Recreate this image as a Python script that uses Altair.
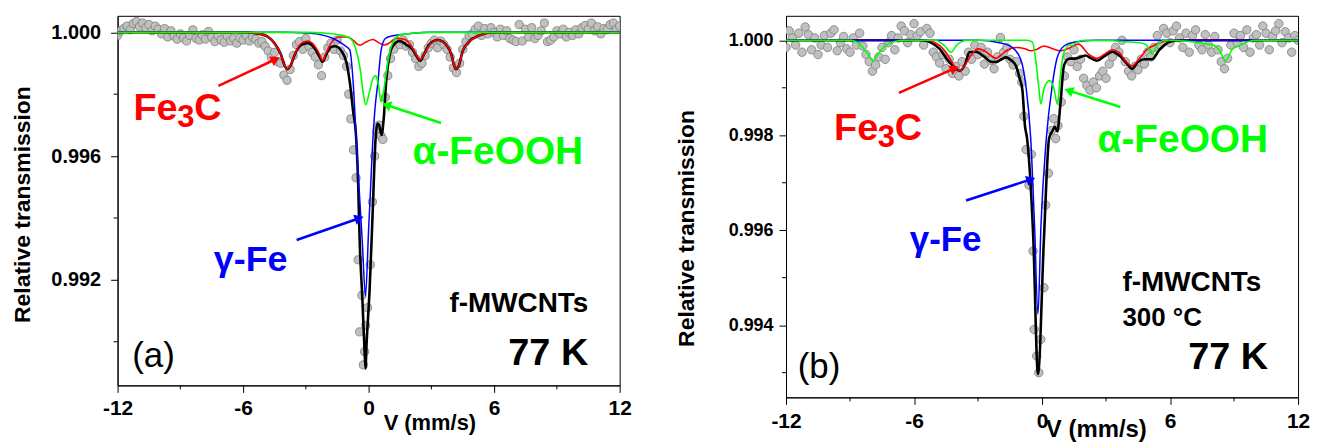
import altair as alt
import pandas as pd

# ---------------- data ----------------
# (a) f-MWCNTs, 77 K : experimental points
left_pts_v = [-12.00, -11.85, -11.70, -11.55, -11.40, -11.25, -11.10, -10.95, -10.80, -10.65,
              -10.50, -10.35, -10.20, -10.05, -9.90, -9.75, -9.60, -9.45, -9.30, -9.15,
              -9.00, -8.85, -8.70, -8.55, -8.40, -8.25, -8.10, -7.95, -7.80, -7.65,
              -7.50, -7.35, -7.20, -7.05, -6.90, -6.75, -6.60, -6.45, -6.30, -6.15,
              -6.00, -5.85, -5.70, -5.55, -5.40, -5.25, -5.10, -4.95, -4.80, -4.65,
              -4.50, -4.35, -4.20, -4.05, -3.90, -3.75, -3.60, -3.45, -3.30, -3.15,
              -3.00, -2.85, -2.70, -2.55, -2.40, -2.25, -2.10, -1.95, -1.80, -1.65,
              -1.50, -1.35, -1.20, -1.05, -0.95, -0.85, -0.72, -0.60, -0.50, -0.43,
              -0.32, -0.25, -0.19, -0.14, -0.05, 0.08, 0.18, 0.29, 0.40, 0.50,
              0.60, 0.68, 0.80, 0.92, 1.05, 1.20, 1.35, 1.50, 1.65, 1.80,
              1.95, 2.10, 2.25, 2.40, 2.55, 2.70, 2.85, 3.00, 3.15, 3.30,
              3.45, 3.60, 3.75, 3.90, 4.05, 4.20, 4.35, 4.50, 4.65, 4.80,
              4.95, 5.10, 5.25, 5.40, 5.55, 5.70, 5.85, 6.00, 6.15, 6.30,
              6.45, 6.60, 6.75, 6.90, 7.05, 7.20, 7.35, 7.50, 7.65, 7.80,
              7.95, 8.10, 8.25, 8.40, 8.55, 8.70, 8.85, 9.00, 9.15, 9.30,
              9.45, 9.60, 9.75, 9.90, 10.05, 10.20, 10.35, 10.50, 10.65, 10.80,
              10.95, 11.10, 11.25, 11.40, 11.55, 11.70, 11.85, 12.00]
left_pts_t = [0.99990, 1.00005, 1.00012, 1.00020, 1.00008, 1.00028, 1.00035, 1.00018, 1.00030, 1.00015,
              1.00025, 1.00005, 1.00020, 1.00010, 0.99995, 1.00012, 0.99985, 1.00005, 0.99988, 0.99978,
              0.99995, 0.99982, 0.99972, 0.99990, 1.00008, 0.99980, 0.99975, 0.99992, 0.99978, 1.00003,
              0.99985, 0.99970, 0.99990, 0.99975, 0.99968, 0.99988, 0.99972, 0.99980, 0.99965, 0.99982,
              0.99975, 0.99990, 0.99972, 0.99985, 0.99978, 0.99965, 0.99970, 0.99955, 0.99940, 0.99920,
              0.99935, 0.99905, 0.99900, 0.99862, 0.99845, 0.99880, 0.99925, 0.99960, 0.99970, 0.99945,
              0.99980, 0.99955, 0.99935, 0.99920, 0.99895, 0.99860, 0.99920, 0.99950, 0.99965, 0.99945,
              0.99975, 0.99940, 0.99925, 0.99890, 0.99800, 0.99720, 0.99620, 0.99530, 0.99265, 0.99032,
              0.99150, 0.98925, 0.98968, 0.99053, 0.99110, 0.99249, 0.99452, 0.99600, 0.99680, 0.99700,
              0.99665, 0.99654, 0.99790, 0.99860, 0.99915, 0.99945, 0.99970, 0.99960, 0.99975, 0.99955,
              0.99960, 0.99935, 0.99915, 0.99890, 0.99900, 0.99925, 0.99950, 0.99965, 0.99975, 0.99950,
              0.99972, 0.99960, 0.99945, 0.99920, 0.99885, 0.99870, 0.99900, 0.99945, 0.99970, 0.99990,
              0.99995, 1.00010, 1.00020, 0.99990, 1.00012, 0.99995, 1.00015, 1.00000, 0.99985, 1.00010,
              0.99990, 1.00005, 0.99980, 0.99975, 0.99970, 1.00025, 0.99972, 1.00010, 0.99985, 1.00015,
              0.99980, 0.99990, 1.00005, 1.00030, 0.99970, 0.99975, 0.99985, 1.00005, 0.99995, 1.00010,
              0.99985, 1.00000, 0.99990, 1.00008, 0.99995, 1.00015, 1.00022, 1.00010, 1.00030, 1.00005,
              1.00018, 0.99995, 1.00012, 1.00008, 1.00025, 1.00030, 1.00010, 1.00020]

# (a) fitted curves
left_total_v = [-12, -6, -5.2, -4.8, -4.5, -4.2, -4.0, -3.89, -3.75, -3.5, -3.2, -2.9, -2.6, -2.35,
                -2.2, -2.05, -1.8, -1.6, -1.3, -1.05, -0.9, -0.75, -0.59, -0.5, -0.43, -0.3, -0.2,
                -0.15, -0.1, 0.05, 0.2, 0.33, 0.42, 0.5, 0.62, 0.72, 0.85, 1.0, 1.2, 1.5, 1.8, 2.1,
                2.3, 2.46, 2.62, 2.9, 3.3, 3.7, 3.95, 4.1, 4.17, 4.3, 4.5, 4.8, 5.3, 6, 12]
left_total_t = [1.0, 1.0, 0.99995, 0.99985, 0.99965, 0.9993, 0.9989, 0.99881, 0.9989, 0.99933, 0.9996,
                0.99965, 0.9995, 0.99922, 0.99905, 0.99925, 0.99952, 0.99955, 0.9994, 0.9990, 0.9984,
                0.9975, 0.99653, 0.9951, 0.99332, 0.9914, 0.9898, 0.98914, 0.9899, 0.99172, 0.9943,
                0.99653, 0.99705, 0.9970, 0.99668, 0.9972, 0.9985, 0.99925, 0.9996, 0.99972, 0.9996,
                0.99945, 0.99922, 0.99908, 0.99925, 0.9996, 0.99975, 0.9996, 0.9993, 0.9989, 0.99881,
                0.9989, 0.9994, 0.9997, 0.9999, 1.0, 1.0]
left_fe3c_v = [-12, -6, -5.2, -4.8, -4.5, -4.2, -4.0, -3.89, -3.75, -3.5, -3.2, -2.9, -2.6, -2.35,
               -2.2, -2.05, -1.8, -1.4, -1.0, -0.7, -0.5, -0.38, -0.2, 0.2, 0.5, 0.76, 1.0, 1.3,
               1.7, 2.05, 2.3, 2.46, 2.62, 2.9, 3.3, 3.7, 3.95, 4.1, 4.17, 4.3, 4.5, 4.8, 5.3, 6, 12]
left_fe3c_t = [1.0, 1.0, 0.99995, 0.99985, 0.99965, 0.9993, 0.9989, 0.99881, 0.9989, 0.99935, 0.99965,
               0.99972, 0.99958, 0.9993, 0.99908, 0.9993, 0.99965, 0.99985, 0.99985, 0.99972, 0.9996,
               0.99959, 0.99966, 0.99977, 0.99966, 0.99959, 0.99966, 0.9998, 0.99978, 0.99955, 0.99925,
               0.99911, 0.99925, 0.99958, 0.99975, 0.9996, 0.9993, 0.9989, 0.99881, 0.9989, 0.9994,
               0.9997, 0.9999, 1.0, 1.0]
left_gfe_v = [-12, -4, -3, -2.5, -1.7, -1.2, -0.9, -0.75, -0.59, -0.45, -0.3, -0.15, 0.0, 0.1,
              0.2, 0.3, 0.44, 0.6, 0.8, 1.1, 2, 3, 12]
left_gfe_t = [1.0, 1.0, 0.99998, 0.99995, 0.9998, 0.9996, 0.99943, 0.9985, 0.99654, 0.9949, 0.9932,
              0.99148, 0.99363, 0.99505, 0.9965, 0.9975, 0.99836, 0.99943, 0.9998, 0.99988, 0.99996,
              1.0, 1.0]
left_feooh_v = [-12, -3, -2, -1.5, -1.0, -0.75, -0.6, -0.4, -0.27, -0.14, 0.05, 0.2, 0.33, 0.47,
                0.6, 0.72, 0.84, 1.08, 1.48, 2.0, 3, 12]
left_feooh_t = [1.0, 1.0, 0.99997, 0.99993, 0.99985, 0.9997, 0.99943, 0.9988, 0.9981, 0.99766, 0.9981,
                0.9985, 0.9986, 0.9983, 0.99775, 0.9981, 0.99869, 0.99954, 0.99991, 0.99996, 1.0, 1.0]

# (b) f-MWCNTs 300 °C, 77 K : experimental points
right_pts_v = [-12.00, -11.85, -11.70, -11.55, -11.40, -11.25, -11.10, -10.95, -10.80, -10.65,
               -10.50, -10.35, -10.20, -10.05, -9.90, -9.75, -9.60, -9.45, -9.30, -9.15,
               -9.00, -8.85, -8.70, -8.55, -8.40, -8.25, -8.10, -7.95, -7.80, -7.65,
               -7.50, -7.35, -7.20, -7.05, -6.90, -6.75, -6.60, -6.45, -6.30, -6.15,
               -6.00, -5.85, -5.70, -5.55, -5.40, -5.25, -5.10, -4.95, -4.80, -4.65,
               -4.50, -4.35, -4.20, -4.05, -3.90, -3.75, -3.60, -3.45, -3.30, -3.15,
               -3.00, -2.85, -2.70, -2.55, -2.40, -2.25, -2.10, -1.95, -1.80, -1.65,
               -1.50, -1.35, -1.20, -1.05, -0.95, -0.85, -0.75, -0.61, -0.50, -0.42,
               -0.37, -0.25, -0.15, -0.06, 0.09, 0.17, 0.30, 0.45, 0.55, 0.64,
               0.75, 0.90, 1.05, 1.20, 1.35, 1.50, 1.65, 1.80, 1.95, 2.10,
               2.25, 2.40, 2.55, 2.70, 2.85, 3.00, 3.15, 3.30, 3.45, 3.60,
               3.75, 3.90, 4.05, 4.20, 4.35, 4.50, 4.65, 4.80, 4.95, 5.10,
               5.25, 5.40, 5.55, 5.70, 5.85, 6.00, 6.15, 6.30, 6.45, 6.60,
               6.75, 6.90, 7.05, 7.20, 7.35, 7.50, 7.65, 7.80, 7.95, 8.10,
               8.25, 8.40, 8.55, 8.70, 8.85, 9.00, 9.15, 9.30, 9.45, 9.60,
               9.75, 9.90, 10.05, 10.20, 10.35, 10.50, 10.65, 10.80, 10.95, 11.10,
               11.25, 11.40, 11.55, 11.70, 11.85, 12.00]
right_pts_t = [0.99985, 1.00020, 1.00005, 0.99990, 1.00015, 0.99975, 1.00028, 1.00012, 0.99980, 1.00005,
               0.99970, 0.99990, 1.00010, 0.99985, 1.00015, 1.00022, 0.99978, 0.99995, 1.00008, 0.99982,
               0.99975, 1.00005, 0.99990, 1.00015, 0.99988, 0.99970, 0.99955, 0.99935, 0.99948, 0.99965,
               0.99985, 0.99960, 0.99995, 1.00010, 0.99980, 1.00005, 1.00030, 1.00020, 0.99995, 1.00012,
               1.00035, 1.00010, 1.00018, 0.99990, 1.00025, 1.00015, 0.99975, 0.99965, 0.99952, 0.99970,
               0.99940, 0.99960, 0.99930, 0.99945, 0.99925, 0.99955, 0.99935, 0.99975, 0.99960, 0.99990,
               0.99970, 0.99985, 0.99950, 0.99975, 0.99958, 0.99940, 0.99965, 1.00006, 0.99975, 0.99985,
               0.99960, 0.99948, 0.99955, 0.99930, 0.99912, 0.99840, 0.99770, 0.99695, 0.99760, 0.99556,
               0.99391, 0.99335, 0.99300, 0.99370, 0.99479, 0.99653, 0.99720, 0.99810, 0.99835, 0.99793,
               0.99820, 0.99870, 0.99925, 0.99965, 0.99955, 0.99980, 0.99945, 0.99960, 0.99920, 0.99905,
               0.99895, 0.99912, 0.99900, 0.99925, 0.99935, 0.99920, 0.99950, 0.99965, 0.99985, 0.99975,
               1.00000, 0.99955, 0.99935, 0.99925, 0.99945, 0.99938, 0.99960, 0.99950, 0.99975, 0.99965,
               0.99985, 1.00010, 0.99990, 1.00025, 1.00015, 0.99995, 1.00020, 1.00030, 1.00005, 0.99985,
               1.00015, 0.99975, 1.00010, 1.00022, 0.99990, 0.99980, 1.00012, 0.99990, 0.99975, 1.00008,
               0.99980, 0.99955, 0.99940, 0.99962, 0.99990, 1.00015, 0.99995, 1.00010, 0.99985, 1.00022,
               0.99975, 1.00005, 1.00012, 0.99990, 1.00030, 1.00015, 0.99980, 1.00008, 1.00020, 1.00035,
               0.99995, 1.00018, 1.00005, 0.99975, 1.00010, 1.00000]

# (b) fitted curves
right_total_v = [-12, -5.6, -5.2, -4.8, -4.45, -4.19, -3.87, -3.6, -3.41, -3.1, -2.7, -2.4, -2.16,
                 -1.9, -1.69, -1.45, -1.23, -1.05, -0.92, -0.8, -0.7, -0.41, -0.19, 0.09, 0.33, 0.5,
                 0.6, 0.72, 0.85, 1.03, 1.26, 1.6, 2.04, 2.3, 2.58, 2.9, 3.3, 3.7, 4.0, 4.22, 4.5,
                 4.8, 5.15, 5.5, 6.0, 6.5, 12]
right_total_t = [1.0, 1.0, 0.99995, 0.99982, 0.9996, 0.99947, 0.99936, 0.9995, 0.99975, 0.99976, 0.99965,
                 0.99955, 0.99954, 0.9996, 0.99964, 0.99958, 0.99947, 0.9992, 0.99895, 0.9982, 0.99793,
                 0.99583, 0.99297, 0.99583, 0.99793, 0.9981, 0.99818, 0.99808, 0.9986, 0.99947, 0.99961,
                 0.99962, 0.99968, 0.99962, 0.99957, 0.99966, 0.99976, 0.99965, 0.9995, 0.9994, 0.99955,
                 0.9996, 0.9996, 0.9998, 0.99997, 1.0, 1.0]
right_fe3c_v = [-12, -5.5, -5.0, -4.6, -4.3, -4.05, -3.87, -3.65, -3.3, -3.0, -2.7, -2.4, -2.16, -1.95,
                -1.6, -1.2, -0.8, -0.53, -0.3, 0.1, 0.5, 0.87, 1.2, 1.7, 2.2, 2.58, 2.9, 3.3, 3.6,
                3.95, 4.22, 4.5, 4.9, 5.4, 6, 12]
right_fe3c_t = [1.0, 1.0, 0.99995, 0.9998, 0.9996, 0.99942, 0.99936, 0.99945, 0.9997, 0.99982, 0.99978,
                0.99968, 0.99962, 0.99968, 0.9998, 0.99985, 0.99982, 0.99978, 0.9998, 0.99988, 0.99982,
                0.99978, 0.99982, 0.99992, 0.9997, 0.99962, 0.9997, 0.9998, 0.99975, 0.99955, 0.99946,
                0.99958, 0.9998, 0.99992, 1.0, 1.0]
right_gfe_v = [-12, -3, -2, -1.4, -1.0, -0.76, -0.53, -0.35, -0.19, -0.05, 0.2, 0.48, 0.69, 1.03,
               1.5, 2.5, 12]
right_gfe_t = [1.0, 1.0, 0.99995, 0.99985, 0.9996, 0.99905, 0.99793, 0.9961, 0.99423, 0.9961, 0.99793,
               0.99905, 0.9996, 0.99988, 0.99996, 1.0, 1.0]
right_feooh_v = [-12, -9, -8.5, -8.15, -7.92, -7.7, -7.3, -6.5, -5, -4.6, -4.26, -4.0, -3.5, -0.7,
                 -0.45, -0.3, -0.15, -0.06, 0.1, 0.36, 0.55, 0.72, 0.85, 1.0, 1.3, 1.42, 1.6, 2.0,
                 4.6, 4.9, 5.15, 5.4, 5.8, 8.0, 8.3, 8.6, 8.9, 9.3, 10, 12]
right_feooh_t = [1.0, 1.0, 0.9999, 0.9997, 0.99957, 0.9997, 0.9999, 1.0, 1.0, 0.9999, 0.99975, 0.9999,
                 1.0, 1.0, 0.99996, 0.9996, 0.9990, 0.99866, 0.9990, 0.99915, 0.9990, 0.99866, 0.9992,
                 0.9997, 0.9999, 0.99989, 0.99995, 1.0, 0.99995, 0.9999, 0.99971, 0.9999, 1.0, 0.9999,
                 0.9998, 0.99957, 0.9998, 0.9999, 1.0, 1.0]

# axis ticks
x_major = [-12, -6, 0, 6, 12]
x_minor = [-9, -3, 3, 9]
left_y_major = [1.000, 0.996, 0.992]
left_y_minor = [0.998, 0.994, 0.990]
right_y_major = [1.000, 0.998, 0.996, 0.994]
right_y_minor = [0.999, 0.997, 0.995, 0.993]

# annotations: (v, T, text, colour, size, weight, align, dx, dy)
left_texts = [
    (-11.24, 0.99716, "Fe", "#ff0000", 38, "bold", "left", 0, 0),
    (-11.24, 0.99716, "3", "#ff0000", 31, "bold", "left", 44, 7),
    (-11.24, 0.99716, "C", "#ff0000", 38, "bold", "left", 61, 0),
    (2.1, 0.99573, "α-FeOOH", "#00ff00", 39, "bold", "left", 0, 0),
    (-7.4, 0.99229, "γ-Fe", "#0000ff", 36, "bold", "left", 0, 0),
    (10.5, 0.99097, "f-MWCNTs", "#000000", 28, "bold", "right", 0, 0),
    (10.5, 0.98924, "77 K", "#000000", 38, "bold", "right", 0, 0),
    (-11.3, 0.98920, "(a)", "#000000", 35, "normal", "left", 0, 0),
]
right_texts = [
    (-9.75, 0.99790, "Fe", "#ff0000", 38, "bold", "left", 0, 0),
    (-9.75, 0.99790, "3", "#ff0000", 31, "bold", "left", 44, 7),
    (-9.75, 0.99790, "C", "#ff0000", 38, "bold", "left", 61, 0),
    (2.6, 0.99765, "α-FeOOH", "#00ff00", 39, "bold", "left", 0, 0),
    (-6.2, 0.99556, "γ-Fe", "#0000ff", 35, "bold", "left", 0, 0),
    (3.77, 0.99473, "f-MWCNTs", "#000000", 28, "bold", "left", 0, 0),
    (3.77, 0.99399, "300 °C", "#000000", 26, "bold", "left", 0, 0),
    (10.6, 0.99307, "77 K", "#000000", 38, "bold", "right", 0, 0),
    (-11.45, 0.99289, "(b)", "#000000", 35, "normal", "left", 0, 0),
]
# arrows: (v_start, T_start, v_tip, T_tip, colour, head angle)
left_arrows = [
    (-7.18, 0.99827, -4.45, 0.99913, "#ff0000", 334.6),
    (3.46, 0.99707, 0.85, 0.99765, "#00ff00", 198.4),
    (-3.44, 0.99329, -0.45, 0.99399, "#0000ff", 340.9),
]
right_arrows = [
    (-6.71, 0.998895, -4.1, 0.99941, "#ff0000", 335.8),
    (3.67, 0.998595, 1.25, 0.99894, "#00ff00", 200.3),
    (-3.56, 0.996625, -0.52, 0.99707, "#0000ff", 341.1),
]

FONT = "Liberation Sans"


def panel(pts_v, pts_t, curves, y_dom, y_major, y_minor, texts, arrows, W, H, ax):
    xs = alt.Scale(domain=[-12, 12], nice=False, zero=False)
    ys = alt.Scale(domain=y_dom, nice=False, zero=False)
    x_axis = alt.Axis(values=x_major, labelExpr="'' + datum.value", grid=False,
                      tickSize=7, tickColor="black", tickWidth=1, domainColor="black",
                      labelFont=FONT, labelFontWeight="bold", labelFontSize=ax["xl"],
                      labelColor="black", labelPadding=ax["xlp"], labelFlush=False,
                      labelOverlap=False, title="V (mm/s)", titleFont=FONT,
                      titleFontWeight="bold", titleFontSize=ax["xt"], titleColor="black",
                      titleX=ax["xtx"], titleY=ax["xty"], titleBaseline="alphabetic",
                      titleAlign="center")
    y_axis = alt.Axis(values=y_major, format=".3f", grid=False, tickSize=7,
                      tickColor="black", tickWidth=1, domainColor="black",
                      labelFont=FONT, labelFontWeight="bold", labelFontSize=ax["yl"],
                      labelColor="black", labelPadding=ax["ylp"], labelOverlap=False,
                      title="Relative transmission", titleFont=FONT,
                      titleFontWeight="bold", titleFontSize=ax["yt"], titleColor="black",
                      titleAngle=270, titleX=ax["ytx"], titleY=ax["yty"],
                      titleBaseline="middle", titleAlign="center")
    X = alt.X("v:Q", scale=xs, axis=x_axis)
    Y = alt.Y("t:Q", scale=ys, axis=y_axis)

    layers = []
    layers.append(
        alt.Chart(pd.DataFrame({"v": pts_v, "t": pts_t}))
        .mark_circle(size=ax["ps"], color="#c0c0c0", stroke="#7c7c7c", strokeWidth=0.8,
                     opacity=1, clip=True)
        .encode(x=X, y=Y)
    )
    for cv, ct, col, sw in curves:
        layers.append(
            alt.Chart(pd.DataFrame({"v": cv, "t": ct}))
            .mark_line(color=col, strokeWidth=sw, interpolate="monotone", clip=True)
            .encode(x=X, y=Y)
        )
    # minor ticks
    layers.append(
        alt.Chart(pd.DataFrame({"v": x_minor})).mark_rule(color="black", strokeWidth=1)
        .encode(x=X, y=alt.value(H), y2=alt.value(H + 4))
    )
    layers.append(
        alt.Chart(pd.DataFrame({"t": y_minor})).mark_rule(color="black", strokeWidth=1)
        .encode(y=Y, x=alt.value(0), x2=alt.value(-4))
    )
    # arrows
    for v1, t1, v2, t2, col, ang in arrows:
        layers.append(
            alt.Chart(pd.DataFrame({"v": [v1], "t": [t1], "v2": [v2], "t2": [t2]}))
            .mark_rule(color=col, strokeWidth=2.5)
            .encode(x=X, y=Y, x2="v2:Q", y2="t2:Q")
        )
        layers.append(
            alt.Chart(pd.DataFrame({"v": [v2], "t": [t2]}))
            .mark_point(shape="triangle-right", filled=True, size=110, color=col,
                        opacity=1, angle=ang)
            .encode(x=X, y=Y)
        )
    # texts
    for v, t, txt, col, fs, fw, al, dx, dy in texts:
        layers.append(
            alt.Chart(pd.DataFrame({"v": [v], "t": [t], "s": [txt]}))
            .mark_text(align=al, baseline="alphabetic", font=FONT, fontSize=fs,
                       fontWeight=fw, color=col, dx=dx, dy=dy)
            .encode(x=X, y=Y, text="s:N")
        )
    return alt.layer(*layers).properties(width=W, height=H)


left = panel(
    left_pts_v, left_pts_t,
    [(left_total_v, left_total_t, "#000000", 2.6),
     (left_fe3c_v, left_fe3c_t, "#ff0000", 1.6),
     (left_gfe_v, left_gfe_t, "#0000ff", 1.5),
     (left_feooh_v, left_feooh_t, "#00ff00", 1.6)],
    [0.98859, 1.000534], left_y_major, left_y_minor, left_texts, left_arrows, 504, 371,
    dict(xl=21, xlp=5, xt=22, xtx=313, xty=44, yl=20, ylp=10, yt=23, ytx=-95, yty=189, ps=68),
)
right = panel(
    right_pts_v, right_pts_t,
    [(right_total_v, right_total_t, "#000000", 2.6),
     (right_fe3c_v, right_fe3c_t, "#ff0000", 1.6),
     (right_gfe_v, right_gfe_t, "#0000ff", 1.5),
     (right_feooh_v, right_feooh_t, "#00ff00", 1.6)],
    [0.99248, 1.000516], right_y_major, right_y_minor, right_texts, right_arrows, 514, 383,
    dict(xl=21, xlp=6, xt=24, xtx=311, xty=39, yl=18, ylp=6, yt=23, ytx=-100, yty=213, ps=72),
)

chart = (
    alt.hconcat(left, right, spacing=42)
    .properties(padding={"left": 3, "top": 6, "right": 0, "bottom": 0})
    .configure_view(stroke="black", strokeWidth=1)
)
chart.save("out.html", embed_options={"renderer": "svg", "actions": False})
